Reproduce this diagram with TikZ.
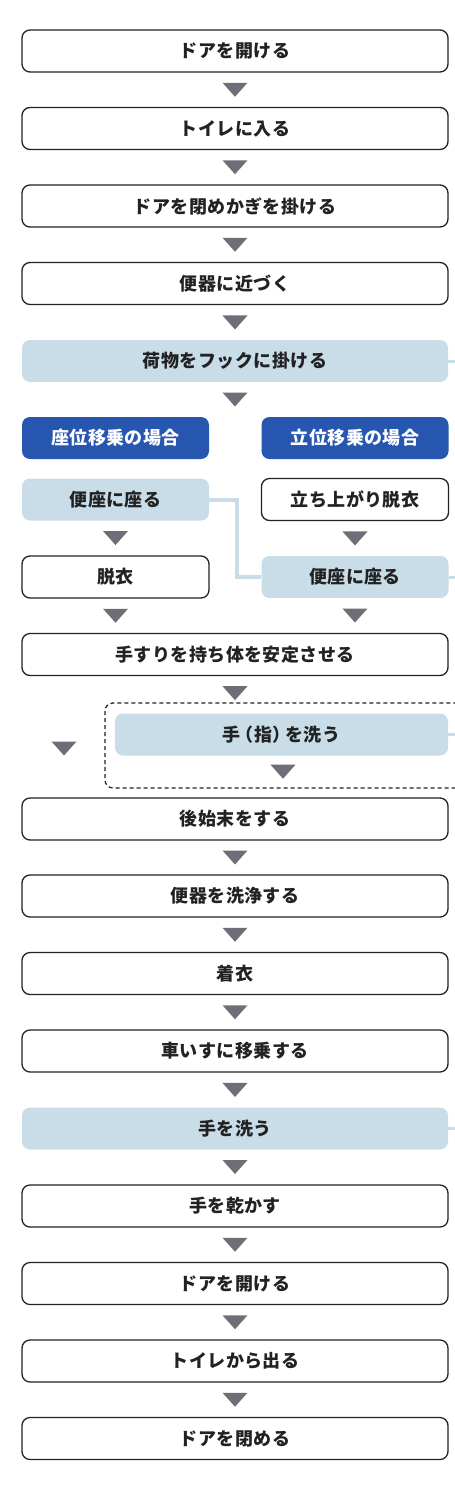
\documentclass[tikz,border=0pt]{standalone}
\usepackage{fontspec}
\newfontfamily\jp{Noto Sans CJK JP}[LetterSpace=2.5]
\usetikzlibrary{calc}
\definecolor{lblue}{RGB}{200,221,232}
\definecolor{dblue}{RGB}{38,86,176}
\definecolor{trigray}{RGB}{110,110,120}
\definecolor{ink}{RGB}{34,34,34}
\begin{document}
\begin{tikzpicture}[x=1pt,y=-1pt,
 base/.style={rounded corners=8pt, minimum height=42pt, inner sep=0pt, font=\jp\bfseries\fontsize{18}{18}\selectfont, text=ink},
 wbox/.style={base, draw=ink, line width=1.3pt, fill=white},
 bbox/.style={base, fill=lblue},
 hbox/.style={base, fill=dblue, text=white},
 full/.style={minimum width=426pt},
 half/.style={minimum width=187pt},
 conn/.style={draw=lblue, line width=4pt},
 stub/.style={draw=lblue, line width=3pt},
 dashbox/.style={draw=ink, line width=1.3pt, dash pattern=on 4pt off 3pt, rounded corners=8pt},
 downtri/.pic={\fill[trigray] (-12.5,-7) -- (12.5,-7) -- (0,7) -- cycle;}
]
\useasboundingbox[fill=white] (0,0) rectangle (455,1500);
\clip (0,0) rectangle (455,1500);

\node[wbox,full] (n1) at (235,51) {ドアを開ける};
\node[wbox,full] (n2) at (235,128.5) {トイレに入る};
\node[wbox,full] (n3) at (235,206) {ドアを閉めかぎを掛ける};
\node[wbox,full] (n4) at (235,283.5) {便器に近づく};
\node[bbox,full] (n5) at (235,361) {荷物をフックに掛ける};
\node[hbox,half] (h1) at (115.5,438) {座位移乗の場合};
\node[hbox,half] (h2) at (355,438) {立位移乗の場合};
\node[bbox,half] (a1) at (115.5,499.5) {便座に座る};
\node[wbox,half] (a2) at (355,499.5) {立ち上がり脱衣};
\node[wbox,half] (b1) at (115.5,577) {脱衣};
\node[bbox,half] (b2) at (355,577) {便座に座る};
\node[wbox,full] (n6) at (235,654.5) {手すりを持ち体を安定させる};
\draw[dashbox] (105,703) rectangle (475,788);
\node[bbox,minimum width=333pt] (w1) at (281.5,734.5) {手\kern-5pt（指）\kern-5pt を洗う};
\node[wbox,full] (n7) at (235,819) {後始末をする};
\node[wbox,full] (n8) at (235,896) {便器を洗浄する};
\node[wbox,full] (n9) at (235,973.5) {着衣};
\node[wbox,full] (n10) at (235,1051) {車いすに移乗する};
\node[bbox,full] (n11) at (235,1128.5) {手を洗う};
\node[wbox,full] (n12) at (235,1206) {手を乾かす};
\node[wbox,full] (n13) at (235,1283.5) {ドアを開ける};
\node[wbox,full] (n14) at (235,1361) {トイレから出る};
\node[wbox,full] (n15) at (235,1438.5) {ドアを閉める};

% connectors
\draw[conn] (a1.east) -- ++(28,0) |- (b2.west);
\draw[stub] (n5.east) -- ++(12,0);
\draw[stub] (b2.east) -- ++(12,0);
\draw[stub] (w1.east) -- ++(12,0);
\draw[stub] (n11.east) -- ++(12,0);

% triangles
\pic at ($(n1.south)!0.5!(n2.north)$) {downtri};
\pic at ($(n2.south)!0.5!(n3.north)$) {downtri};
\pic at ($(n3.south)!0.5!(n4.north)$) {downtri};
\pic at ($(n4.south)!0.5!(n5.north)$) {downtri};
\pic at ($(n5.south)!0.5!(n5.south|-h1.north)$) {downtri};
\pic at ($(a1.south)!0.5!(b1.north)$) {downtri};
\pic at ($(a2.south)!0.5!(b2.north)$) {downtri};
\pic at ($(b1.south)!0.5!(b1.south|-n6.north)$) {downtri};
\pic at ($(b2.south)!0.5!(b2.south|-n6.north)$) {downtri};
\pic at ($(n6.south)+(0,17)$) {downtri};
\pic at (64,748.5) {downtri};
\pic at ($(w1.south)+(1.5,16)$) {downtri};
\pic at ($(n7.south)!0.5!(n8.north)$) {downtri};
\pic at ($(n8.south)!0.5!(n9.north)$) {downtri};
\pic at ($(n9.south)!0.5!(n10.north)$) {downtri};
\pic at ($(n10.south)!0.5!(n11.north)$) {downtri};
\pic at ($(n11.south)!0.5!(n12.north)$) {downtri};
\pic at ($(n12.south)!0.5!(n13.north)$) {downtri};
\pic at ($(n13.south)!0.5!(n14.north)$) {downtri};
\pic at ($(n14.south)!0.5!(n15.north)$) {downtri};
\end{tikzpicture}
\end{document}
